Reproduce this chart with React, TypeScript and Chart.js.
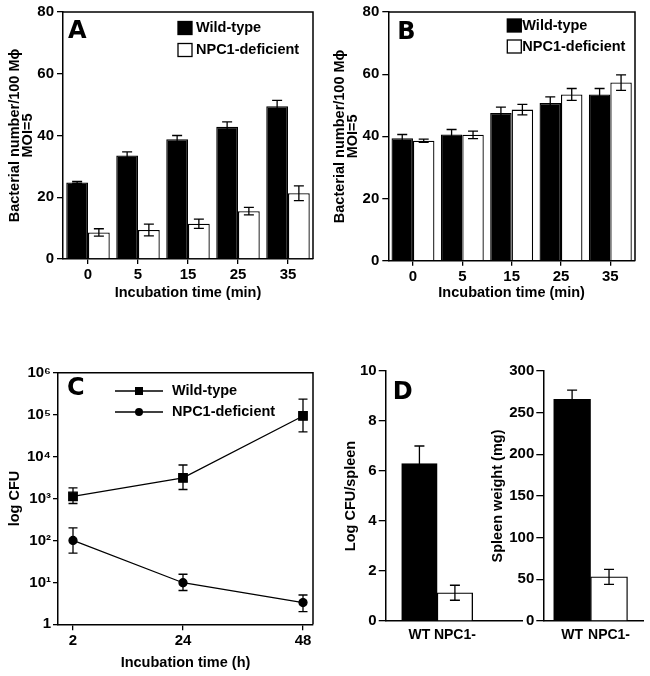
import React, { useEffect, useRef } from 'react';
import { Chart, registerables } from 'chart.js';

Chart.register(...registerables);

const FONT = "'Liberation Sans', Arial, Helvetica, sans-serif";
const LETTER_FONT = "'DejaVu Sans', 'Liberation Sans', Arial, sans-serif";

// ---------- Panel A (bars) ----------
const minuteLabels = ['0', '5', '15', '25', '35'];
const aWildType = [24.8, 33.5, 38.8, 42.8, 49.5];
const aWildTypeErr = [0.3, 1.2, 1.2, 1.6, 1.9];
const aNpc1 = [8.6, 9.4, 11.4, 15.5, 21.3];
const aNpc1Err = [1.2, 1.9, 1.5, 1.2, 2.4];

// ---------- Panel B (bars) ----------
const bWildType = [39.4, 40.6, 47.5, 50.7, 53.5];
const bWildTypeErr = [1.2, 1.6, 1.9, 2.0, 1.9];
const bNpc1 = [38.6, 40.5, 48.6, 53.5, 57.3];
const bNpc1Err = [0.5, 1.2, 1.7, 1.9, 2.5];

// ---------- Panel C (log lines) ----------
const hourTicks = [2, 24, 48];
const cWildType = [1120, 3100, 93000];
const cWildTypeHigh = [1800, 6300, 235000];
const cWildTypeLow = [760, 1640, 39000];
const cNpc1 = [100, 9.8, 3.3];
const cNpc1High = [200, 15.6, 5];
const cNpc1Low = [50, 6.4, 2];
const cTickValues = [1, 10, 100, 1000, 10000, 100000, 1000000];
const cTickLabels = ['1', '10¹', '10²', '10³', '10⁴', '10⁵', '10⁶'];

// ---------- Panel D (two bar plots) ----------
const dLabels = ['WT', 'NPC1-'];
const dLogCfu = [6.3, 1.13];
const dLogCfuErr = [0.7, 0.3];
const dWeight = [266, 53];
const dWeightErr = [11, 9];

const tickFont = { family: FONT, size: 15, weight: 'bold' as const };
const smallTickFont = { family: FONT, size: 14, weight: 'bold' as const };
const titleFont = { family: FONT, size: 14.5, weight: 'bold' as const };

const errorBarPlugin = {
  id: 'errorBars',
  afterDatasetsDraw(chart: any, _a: any, opts: any) {
    const ctx = chart.ctx;
    const cap = (opts && opts.cap) || 5;
    chart.data.datasets.forEach((ds: any, i: number) => {
      if (!ds.errHigh) return;
      const meta = chart.getDatasetMeta(i);
      const ys = chart.scales[meta.yAxisID];
      ctx.save();
      ctx.strokeStyle = '#000';
      ctx.lineWidth = 1.3;
      meta.data.forEach((el: any, j: number) => {
        const x = el.x;
        const yHi = ys.getPixelForValue(ds.errHigh[j]);
        const yLo = ys.getPixelForValue(ds.errLow[j]);
        ctx.beginPath();
        ctx.moveTo(x, yHi);
        ctx.lineTo(x, yLo);
        ctx.moveTo(x - cap, yHi);
        ctx.lineTo(x + cap, yHi);
        ctx.moveTo(x - cap, yLo);
        ctx.lineTo(x + cap, yLo);
        ctx.stroke();
      });
      ctx.restore();
    });
  },
};

const framePlugin = {
  id: 'frame',
  afterDraw(chart: any, _a: any, opts: any) {
    if (!opts || !opts.show) return;
    const { ctx, chartArea: c } = chart;
    ctx.save();
    ctx.strokeStyle = '#000';
    ctx.lineWidth = 1.5;
    ctx.beginPath();
    ctx.moveTo(c.left, c.top);
    ctx.lineTo(c.right, c.top);
    ctx.lineTo(c.right, c.bottom);
    ctx.stroke();
    ctx.restore();
  },
};

const panelLegendPlugin = {
  id: 'panelLegend',
  afterDraw(chart: any, _a: any, opts: any) {
    if (!opts || !opts.kind) return;
    const { ctx, chartArea: c } = chart;
    ctx.save();
    ctx.font = `bold ${opts.fontSize}px ${FONT}`;
    ctx.textBaseline = 'middle';
    chart.data.datasets.forEach((ds: any, i: number) => {
      const y = c.top + opts.dy + i * opts.rowGap;
      const x0 = c.left + opts.dx;
      ctx.strokeStyle = '#000';
      ctx.lineWidth = 1.3;
      if (opts.kind === 'box') {
        ctx.fillStyle = ds.legendColor;
        ctx.fillRect(x0, y - opts.boxH / 2, opts.boxW, opts.boxH);
        ctx.strokeRect(x0, y - opts.boxH / 2, opts.boxW, opts.boxH);
      } else {
        ctx.beginPath();
        ctx.moveTo(x0, y);
        ctx.lineTo(x0 + opts.lineLen, y);
        ctx.stroke();
        const mx = x0 + opts.lineLen / 2;
        ctx.fillStyle = '#000';
        if (ds.pointStyle === 'rect') {
          ctx.fillRect(mx - 4, y - 4, 8, 8);
        } else {
          ctx.beginPath();
          ctx.arc(mx, y, 4, 0, Math.PI * 2);
          ctx.fill();
        }
      }
      ctx.fillStyle = '#000';
      ctx.fillText(ds.label, c.left + opts.textDx, y);
    });
    ctx.restore();
  },
};

const letterPlugin = {
  id: 'panelLetter',
  afterDraw(chart: any, _a: any, opts: any) {
    if (!opts || !opts.text) return;
    const { ctx, chartArea: c } = chart;
    ctx.save();
    ctx.font = `bold ${opts.size}px ${LETTER_FONT}`;
    ctx.fillStyle = '#000';
    ctx.textBaseline = 'alphabetic';
    ctx.fillText(opts.text, c.left + opts.dx, c.top + opts.dy);
    ctx.restore();
  },
};

const allPlugins = [errorBarPlugin, framePlugin, panelLegendPlugin, letterPlugin];

function groupedBarConfig(
  wild: number[], wildErr: number[], npc: number[], npcErr: number[],
  g: { yWidth: number; xHeight: number; top: number; right: number },
  letter: { text: string; dx: number; dy: number },
  legend: { dx: number; dy: number; textDx: number; rowGap: number }
): any {
  return {
    type: 'bar',
    data: {
      labels: minuteLabels,
      datasets: [
        {
          label: 'Wild-type', data: wild, backgroundColor: '#000', borderColor: '#000', legendColor: '#000',
          borderWidth: 1.3, barPercentage: 1, categoryPercentage: 0.87,
          errHigh: wild.map((v, i) => v + wildErr[i]), errLow: wild.map((v, i) => v - wildErr[i]),
        },
        {
          label: 'NPC1-deficient', data: npc, backgroundColor: '#fff', borderColor: '#000', legendColor: '#fff',
          borderWidth: 1.3, barPercentage: 1, categoryPercentage: 0.87,
          errHigh: npc.map((v, i) => v + npcErr[i]), errLow: npc.map((v, i) => v - npcErr[i]),
        },
      ],
    },
    options: {
      responsive: false,
      animation: false,
      layout: { padding: { left: 0, top: g.top, right: g.right, bottom: 0 } },
      plugins: {
        legend: { display: false },
        tooltip: { enabled: false },
        errorBars: { cap: 5 },
        frame: { show: true },
        panelLegend: { kind: 'box', fontSize: 14.5, boxW: 14, boxH: 13, ...legend },
        panelLetter: { size: 24, ...letter },
      },
      scales: {
        x: {
          ticks: { font: tickFont, color: '#000', padding: 2 },
          grid: { offset: false, drawOnChartArea: false, tickLength: 5, color: '#000', lineWidth: 1.3 },
          border: { color: '#000', width: 1.5 },
          title: { display: true, text: 'Incubation time (min)', font: titleFont, color: '#000', padding: { top: 0, bottom: 8.3 } },
          afterFit: (s: any) => { s.height = g.xHeight; },
        },
        y: {
          min: 0, max: 80,
          ticks: { stepSize: 20, font: tickFont, color: '#000', padding: 3 },
          grid: { drawOnChartArea: false, tickLength: 6, color: '#000', lineWidth: 1.3 },
          border: { color: '#000', width: 1.5 },
          title: {
            display: true, text: ['Bacterial number/100 Mϕ', 'MOI=5'],
            font: { ...titleFont, lineHeight: 0.9 }, color: '#000', padding: { top: 8.5, bottom: 0 },
          },
          afterFit: (s: any) => { s.width = g.yWidth; },
        },
      },
    },
  };
}

function configA() {
  return groupedBarConfig(aWildType, aWildTypeErr, aNpc1, aNpc1Err,
    { yWidth: 63, xHeight: 51, top: 9, right: 12 },
    { text: 'A', dx: 5, dy: 26 },
    { dx: 115, dy: 16, textDx: 133, rowGap: 22 });
}

function configB() {
  return groupedBarConfig(bWildType, bWildTypeErr, bNpc1, bNpc1Err,
    { yWidth: 63.3, xHeight: 49.3, top: 11.5, right: 15 },
    { text: 'B', dx: 9, dy: 27 },
    { dx: 119, dy: 13.5, textDx: 134, rowGap: 21 });
}

function configC(): any {
  return {
    type: 'line',
    data: {
      datasets: [
        {
          label: 'Wild-type',
          data: hourTicks.map((h, i) => ({ x: h, y: cWildType[i] })),
          borderColor: '#000', borderWidth: 1.3, pointStyle: 'rect', pointRadius: 6,
          pointBackgroundColor: '#000', pointBorderColor: '#000', tension: 0,
          errHigh: cWildTypeHigh, errLow: cWildTypeLow,
        },
        {
          label: 'NPC1-deficient',
          data: hourTicks.map((h, i) => ({ x: h, y: cNpc1[i] })),
          borderColor: '#000', borderWidth: 1.3, pointStyle: 'circle', pointRadius: 4,
          pointBackgroundColor: '#000', pointBorderColor: '#000', tension: 0,
          errHigh: cNpc1High, errLow: cNpc1Low,
        },
      ],
    },
    options: {
      responsive: false,
      animation: false,
      layout: { padding: { left: 0, top: 12.7, right: 12, bottom: 0 } },
      plugins: {
        legend: { display: false },
        tooltip: { enabled: false },
        errorBars: { cap: 4.5 },
        frame: { show: true },
        panelLegend: { kind: 'line', fontSize: 14.5, lineLen: 48, dx: 57, dy: 18.3, textDx: 114, rowGap: 21 },
        panelLetter: { text: 'C', size: 24, dx: 9, dy: 22.5 },
      },
      scales: {
        x: {
          type: 'linear', min: -1, max: 50,
          afterBuildTicks: (s: any) => { s.ticks = hourTicks.map((v) => ({ value: v })); },
          ticks: { font: tickFont, color: '#000', padding: 2 },
          grid: { drawOnChartArea: false, tickLength: 6, color: '#000', lineWidth: 1.3 },
          border: { color: '#000', width: 1.5 },
          title: { display: true, text: 'Incubation time (h)', font: titleFont, color: '#000', padding: { top: 0, bottom: 4.3 } },
          afterFit: (s: any) => { s.height = 51.7; },
        },
        y: {
          type: 'logarithmic', min: 1, max: 1000000,
          afterBuildTicks: (s: any) => { s.ticks = cTickValues.map((v) => ({ value: v })); },
          ticks: { font: tickFont, color: '#000', padding: 2, callback: (_v: any, i: number) => cTickLabels[i] },
          grid: { drawOnChartArea: false, tickLength: 5, color: '#000', lineWidth: 1.3 },
          border: { color: '#000', width: 1.5 },
          title: { display: true, text: 'log CFU', font: titleFont, color: '#000', padding: { top: 6.3, bottom: 0 } },
          afterFit: (s: any) => { s.width = 58; },
        },
      },
    },
  };
}

function dConfig(
  values: number[], errs: number[], yMax: number, step: number, title: string,
  g: { yWidth: number; titlePad: number; right: number; xMin: number; xMax: number },
  letter: any
): any {
  return {
    type: 'bar',
    data: {
      datasets: [
        {
          label: title,
          data: dLabels.map((_l, i) => ({ x: i, y: values[i] })),
          backgroundColor: ['#000', '#fff'], borderColor: '#000', borderWidth: 1.3,
          barPercentage: 1, categoryPercentage: 1,
          errHigh: values.map((v, i) => v + errs[i]), errLow: values.map((v, i) => v - errs[i]),
        },
      ],
    },
    options: {
      responsive: false,
      animation: false,
      layout: { padding: { left: 0, top: 10, right: g.right, bottom: 0 } },
      plugins: {
        legend: { display: false },
        tooltip: { enabled: false },
        errorBars: { cap: 5 },
        panelLetter: letter,
      },
      scales: {
        x: {
          type: 'linear', min: g.xMin, max: g.xMax, offset: false,
          afterBuildTicks: (s: any) => { s.ticks = dLabels.map((_l, i) => ({ value: i })); },
          ticks: { font: smallTickFont, color: '#000', padding: 5.6, callback: (v: any) => dLabels[v] },
          grid: { display: false, drawTicks: false },
          border: { color: '#000', width: 1.5 },
          afterFit: (s: any) => { s.height = 55; },
        },
        y: {
          min: 0, max: yMax,
          ticks: { stepSize: step, font: tickFont, color: '#000', padding: 2 },
          grid: { drawOnChartArea: false, tickLength: 7, color: '#000', lineWidth: 1.3 },
          border: { color: '#000', width: 1.5 },
          title: { display: true, text: title, font: titleFont, color: '#000', padding: { top: g.titlePad, bottom: 0 } },
          afterFit: (s: any) => { s.width = g.yWidth; },
        },
      },
    },
  };
}

function configDLeft() {
  return dConfig(dLogCfu, dLogCfuErr, 10, 2, 'Log CFU/spleen',
    { yWidth: 60.7, titlePad: 17.3, right: 3, xMin: -0.95, xMax: 2.89 },
    { text: 'D', size: 24, dx: 7, dy: 28 });
}

function configDRight() {
  return dConfig(dWeight, dWeightErr, 300, 50, 'Spleen weight (mg)',
    { yWidth: 73.3, titlePad: 19.3, right: 7, xMin: -0.78, xMax: 1.92 },
    {});
}

function Panel(props: { make: () => any; left: number; top: number; width: number; height: number }) {
  const ref = useRef<HTMLCanvasElement>(null);
  useEffect(() => {
    const cfg = props.make();
    cfg.plugins = allPlugins;
    const chart = new Chart(ref.current as HTMLCanvasElement, cfg);
    return () => chart.destroy();
  }, []);
  return (
    <canvas
      ref={ref}
      width={props.width}
      height={props.height}
      style={{ position: 'absolute', left: props.left, top: props.top, width: props.width, height: props.height }}
    />
  );
}

export default function App() {
  return (
    <div style={{ position: 'absolute', left: 0, top: 0, width: 650, height: 676, background: '#fff', overflow: 'hidden' }}>
      <Panel make={configA} left={0} top={0} width={325} height={310} />
      <Panel make={configB} left={325} top={0} width={325} height={310} />
      <Panel make={configC} left={0} top={360} width={325} height={316} />
      <Panel make={configDLeft} left={325} top={360} width={200} height={316} />
      <Panel make={configDRight} left={470} top={360} width={180} height={316} />
    </div>
  );
}
